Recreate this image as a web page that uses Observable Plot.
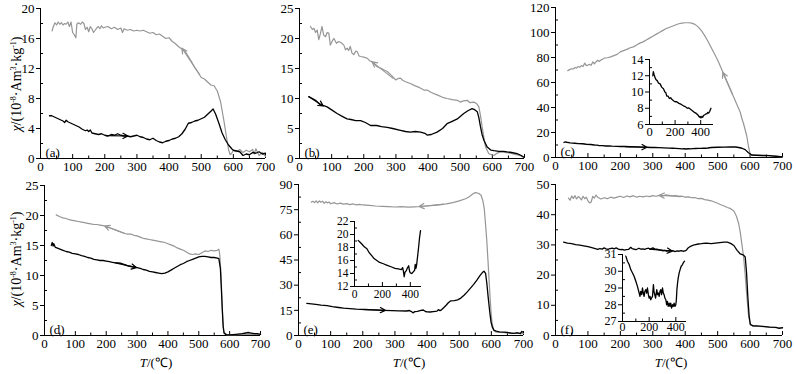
<!DOCTYPE html>
<html><head><meta charset="utf-8">
<script src="https://cdn.jsdelivr.net/npm/d3@7"></script>
<script src="https://cdn.jsdelivr.net/npm/@observablehq/plot@0.6"></script>
<style>
body{margin:0;background:#fff;}
#wrap{position:relative;width:796px;height:374px;overflow:hidden;font-family:"Liberation Serif","Times New Roman",serif;color:#000;}
#wrap svg{position:absolute;}
#wrap svg text{font-family:"Liberation Serif","Times New Roman",serif;}
.ylab{position:absolute;white-space:nowrap;font-size:14px;transform:translate(-50%,-50%) rotate(-90deg);}
.xlab{position:absolute;white-space:nowrap;font-size:13px;transform:translate(-50%,-50%);}
.ylab sup{font-size:8px;vertical-align:baseline;position:relative;top:-5px;}
</style></head><body><div id="wrap"></div>
<script>
// ---------- data: [temperature °C, susceptibility] ----------
const aHeat = [[28,5.7],[35,5.7],[40,5.6],[50,5.4],[60,5.2],[70,5.0],[75,4.8],[80,5.1],[85,4.9],[90,4.8],[100,4.6],[110,4.4],[120,4.2],[130,3.9],[140,3.7],[145,3.8],[150,3.6],[155,3.8],[160,3.4],[170,3.3],[180,3.2],[190,3.3],[200,3.1],[210,3.0],[220,3.2],[230,3.1],[240,3.3],[250,3.1],[260,3.0],[270,3.0],[280,2.9],[290,3.0],[300,3.1],[310,2.9],[320,2.8],[330,2.6],[340,2.5],[350,2.7],[360,2.4],[370,2.2],[380,2.1],[390,2.3],[400,2.4],[410,2.6],[420,2.7],[430,2.9],[440,3.3],[450,3.9],[460,4.7],[470,4.8],[480,5.0],[490,5.1],[500,5.3],[510,5.5],[520,5.9],[530,6.3],[537,6.6],[545,5.9],[555,4.7],[565,3.4],[575,2.5],[585,1.8],[595,1.3],[600,1.1],[610,1.0],[620,0.9],[630,0.4],[640,0.6],[650,0.5],[660,0.8],[670,0.7],[680,0.9],[690,0.6],[700,0.7]];
const aCool = [[36,17.0],[40,17.6],[45,18.1],[50,17.8],[55,18.2],[60,17.9],[65,18.1],[70,17.8],[75,18.0],[80,17.9],[85,18.2],[90,17.6],[95,18.2],[100,16.8],[105,16.5],[110,16.1],[113,17.9],[118,18.1],[125,17.9],[130,18.2],[135,18.0],[140,17.2],[145,17.5],[150,16.9],[155,17.6],[160,17.3],[165,16.8],[170,17.1],[175,17.4],[180,17.6],[185,17.3],[190,17.7],[195,17.4],[200,17.5],[210,17.6],[220,17.3],[230,17.5],[240,17.2],[250,17.4],[255,16.8],[260,17.3],[270,17.1],[280,17.2],[290,17.0],[300,17.1],[310,17.0],[320,17.1],[330,16.9],[340,16.7],[350,16.8],[360,16.5],[370,16.6],[380,16.3],[390,16.0],[400,16.1],[410,15.6],[420,15.3],[430,14.9],[440,14.6],[450,14.3],[460,13.6],[470,12.9],[480,12.1],[490,11.5],[500,10.8],[510,10.6],[520,10.2],[530,9.8],[540,9.7],[550,9.0],[560,7.6],[570,5.2],[580,2.5],[585,1.2],[590,0.5],[595,0.7],[600,1.1],[610,0.9],[620,1.2],[630,0.8],[640,1.1],[650,0.9],[660,1.2],[665,0.6],[670,1.3],[680,0.4],[690,0.8],[700,0.3]];

const bHeat = [[29,10.3],[40,10.0],[50,9.7],[65,8.9],[75,8.8],[86,8.6],[100,8.1],[117,7.5],[130,7.1],[148,6.6],[160,6.5],[175,6.3],[190,6.3],[205,6.0],[221,5.5],[240,5.5],[255,5.3],[273,5.2],[290,5.0],[314,4.7],[330,4.5],[345,4.4],[360,4.5],[377,4.4],[390,4.2],[397,3.9],[410,4.0],[428,4.4],[445,5.0],[459,5.8],[475,6.2],[491,6.6],[500,7.0],[511,7.5],[525,8.0],[537,8.3],[546,8.1],[553,7.8],[558,6.8],[563,5.3],[568,4.0],[574,3.0],[584,1.9],[595,1.4],[605,1.3],[620,1.2],[635,1.2],[646,1.1],[660,1.0],[677,0.8],[690,0.5],[698,0.2]];
const bCool = [[34,22.0],[40,21.5],[45,21.7],[50,21.0],[55,21.4],[60,19.8],[65,20.8],[70,22.0],[75,20.6],[81,20.3],[86,21.0],[91,20.9],[96,18.9],[102,19.6],[107,20.0],[115,19.2],[122,19.5],[130,19.3],[138,18.9],[143,18.1],[148,18.4],[153,18.0],[158,18.7],[163,17.6],[169,17.3],[175,17.9],[180,17.8],[185,17.1],[190,17.0],[200,16.9],[211,16.7],[218,16.3],[226,16.1],[234,15.7],[242,15.3],[255,15.0],[265,14.7],[273,14.5],[285,13.9],[292,13.5],[299,13.1],[306,13.3],[314,13.4],[322,13.0],[330,12.8],[345,12.5],[360,12.1],[370,11.9],[377,11.7],[387,11.4],[397,11.4],[410,11.0],[428,10.6],[445,10.2],[459,10.0],[475,9.8],[491,9.7],[500,9.4],[510,9.6],[522,9.7],[530,9.3],[543,9.4],[552,9.1],[558,8.6],[563,7.2],[568,5.3],[574,3.4],[579,1.9],[589,0.8],[605,0.5],[615,0.9],[626,1.1],[640,1.0],[656,0.9],[670,0.7],[685,0.5],[698,0.2]];

const cHeat = [[26,12.0],[30,12.5],[35,12.2],[45,11.7],[52,11.5],[60,11.4],[70,11.1],[83,11.0],[95,10.6],[109,10.4],[120,10.0],[128,9.9],[135,9.5],[145,9.5],[155,9.2],[165,9.3],[174,9.1],[190,8.9],[200,8.8],[213,8.8],[230,8.6],[245,8.5],[265,8.3],[280,8.2],[295,8.0],[305,8.05],[318,7.9],[335,7.7],[350,7.5],[362,7.4],[370,7.3],[382,7.1],[390,6.9],[396,7.0],[402,6.8],[410,7.0],[416,6.9],[422,7.1],[432,7.2],[440,7.3],[448,7.3],[456,7.5],[462,7.4],[470,7.6],[480,8.0],[500,8.2],[520,8.3],[540,8.5],[555,8.4],[565,8.0],[575,7.4],[585,6.3],[595,3.8],[605,2.0],[620,1.8],[640,1.6],[660,1.5],[680,1.0],[700,0.5]];
const cCool = [[38,69.5],[45,70.5],[50,71],[55,70.8],[60,72],[65,71.5],[70,72.8],[75,72.2],[80,73.5],[85,72.8],[90,75.5],[95,73.5],[100,74],[105,74.5],[110,73.8],[115,76.5],[120,75],[125,76.5],[130,77.8],[135,76.8],[140,78],[145,78.5],[150,79.5],[160,79.8],[170,80.5],[180,81.5],[190,82.5],[200,84.5],[210,85.5],[220,86.5],[230,87.8],[240,88.5],[250,90],[260,91.5],[270,92.5],[280,94],[290,95.5],[300,97],[310,98.5],[320,100],[330,101.5],[340,103],[350,104],[360,105],[370,106],[380,107],[390,107.5],[400,107.8],[410,107.8],[420,107.5],[430,106.5],[440,104.5],[450,101.5],[460,97.5],[470,93],[480,88],[490,83],[500,78],[510,72],[520,66],[530,60],[540,54],[550,48],[560,42],[570,36],[575,31],[580,27],[585,22],[590,17],[595,9],[600,3],[605,1.8],[620,1.7],[640,1.5],[655,1.8],[660,1.2],[680,0.9],[700,0.5]];

const dHeat = [[22,15.0],[25,15.5],[28,14.9],[30,15.3],[35,14.7],[40,14.6],[50,14.4],[60,14.2],[70,14.0],[80,13.9],[90,13.7],[100,13.6],[110,13.5],[120,13.3],[130,13.2],[140,13.0],[150,12.9],[160,12.7],[170,12.6],[180,12.5],[190,12.5],[200,12.4],[210,12.3],[220,12.2],[230,12.1],[240,12.1],[250,12.0],[260,11.8],[270,11.6],[280,11.5],[290,11.4],[300,11.3],[310,11.2],[320,11.0],[330,10.9],[340,10.7],[350,10.6],[360,10.5],[370,10.4],[380,10.3],[390,10.4],[400,10.6],[410,10.9],[420,11.2],[430,11.5],[440,11.8],[450,12.0],[460,12.3],[470,12.5],[480,12.7],[490,12.9],[500,13.1],[510,13.2],[520,13.2],[530,13.1],[540,13.0],[550,13.0],[560,12.9],[565,12.8],[570,11.2],[573,8.0],[576,4.5],[579,1.5],[582,0.4],[590,0.1],[600,0.1],[620,0.2],[640,0.3],[650,0.4],[660,0.5],[670,0.4],[680,0.3],[690,0.3],[700,0.2]];
const dCool = [[38,20.1],[50,19.8],[60,19.6],[70,19.5],[80,19.3],[90,19.2],[100,19.1],[110,19.0],[120,18.9],[130,18.8],[140,18.7],[150,18.6],[160,18.5],[170,18.5],[180,18.4],[190,18.3],[200,18.2],[210,18.0],[220,17.8],[230,17.6],[240,17.4],[250,17.2],[260,17.0],[270,16.9],[280,16.9],[290,16.7],[300,16.6],[310,16.4],[320,16.2],[330,16.1],[340,16.0],[350,15.9],[360,15.8],[370,15.7],[380,15.6],[390,15.5],[400,15.3],[410,15.1],[420,14.9],[430,14.6],[440,14.4],[450,14.2],[460,13.9],[470,13.6],[480,13.5],[490,13.6],[500,13.5],[510,13.8],[520,14.1],[530,14.0],[540,14.2],[550,14.1],[560,14.2],[565,14.4],[568,13.5],[572,10],[575,6],[578,2.5],[581,0.6],[590,0.1],[600,0.1],[650,0.2],[700,0.2]];

const eHeat = [[26,19.1],[40,18.8],[54,18.5],[70,18.1],[89,17.8],[105,17.2],[125,16.7],[140,16.3],[160,16.0],[180,15.7],[207,15.5],[230,15.3],[266,15.0],[290,14.8],[313,14.7],[336,14.6],[345,14.9],[350,14.4],[356,13.5],[362,14.2],[370,14.4],[378,14.8],[388,15.2],[395,14.3],[400,14.1],[410,14.0],[419,14.2],[431,14.5],[435,15.4],[440,14.8],[445,15.3],[454,17.0],[460,18.2],[466,19.5],[473,20.6],[485,20.8],[495,21.2],[505,22.3],[515,24],[525,26],[535,28.2],[545,30.5],[555,33],[565,35.8],[572,37.5],[577,38.3],[582,37],[586,31],[590,23],[595,14],[599,8],[603,5],[608,3.2],[615,2.6],[625,2.2],[640,2.0],[650,1.8],[660,1.5],[670,1.3],[680,1.6],[690,1.2],[695,2.4],[700,1.8]];
const eCool = [[40,79.5],[45,80],[50,79.2],[55,80.3],[60,79.1],[65,80.2],[70,79.4],[75,80.1],[80,78.8],[85,79.8],[90,79.0],[95,79.6],[100,78.5],[110,79.2],[120,78.4],[130,78.9],[140,78.3],[150,78.6],[160,78.0],[170,78.4],[180,77.9],[190,78.2],[200,77.8],[220,77.5],[240,77.2],[260,77.0],[280,76.8],[300,76.6],[320,76.8],[340,76.5],[360,76.7],[380,76.9],[400,77.2],[420,77.6],[440,78.0],[460,78.5],[480,79.2],[500,80.2],[520,81.5],[530,82.5],[540,84.0],[550,85.2],[560,84.8],[568,83.6],[574,80],[578,75.5],[582,66],[586,56],[590,43],[595,26],[599,14],[602,8],[607,3],[615,2],[630,1.8],[650,1.5],[670,1.2],[680,1.8],[690,1.0],[700,1.2]];

const fHeat = [[25,30.9],[37,30.6],[50,30.4],[62,30.1],[75,29.9],[87,29.7],[100,29.4],[112,29.1],[125,28.7],[131,28.5],[137,28.8],[144,28.6],[150,29.0],[156,28.7],[162,28.5],[168,28.8],[175,28.9],[181,28.7],[187,29.0],[194,28.6],[200,28.4],[206,28.5],[212,28.3],[218,28.4],[225,28.5],[229,28.9],[232,29.2],[236,28.8],[242,28.6],[248,28.4],[257,28.9],[263,28.6],[269,28.7],[275,28.5],[281,28.8],[287,28.9],[293,28.6],[300,29.0],[306,28.7],[312,28.6],[318,28.4],[325,28.3],[331,28.0],[337,28.2],[343,27.9],[350,28.1],[356,27.9],[362,28.1],[368,27.8],[375,28.0],[381,27.9],[387,28.1],[393,27.9],[400,28.0],[404,28.3],[408,28.9],[413,29.3],[418,29.6],[425,29.9],[432,30.1],[440,30.3],[450,30.4],[456,30.5],[465,30.6],[480,30.4],[500,30.7],[520,30.9],[530,30.9],[540,30.5],[550,29.8],[560,28.2],[570,27.0],[580,26.6],[585,26.0],[589,21],[593,13],[597,6.5],[601,3.6],[610,3.2],[620,3.2],[640,3.0],[660,2.8],[680,2.7],[690,2.4],[700,2.6]];
const fCool = [[40,45.5],[45,44.8],[50,46.2],[55,45.4],[60,46.3],[65,45.2],[70,46.0],[75,45.6],[80,44.9],[85,46.1],[90,45.3],[95,45.8],[100,44.6],[105,43.9],[110,44.2],[115,46.1],[120,45.5],[125,46.5],[130,45.8],[140,45.2],[150,45.6],[160,45.3],[170,45.8],[180,45.5],[190,45.8],[200,46.1],[210,45.7],[220,46.2],[230,45.9],[240,46.3],[250,45.8],[260,46.1],[270,45.9],[280,46.2],[290,46.0],[300,46.3],[310,46.1],[320,46.4],[330,46.2],[340,46.6],[350,46.4],[360,46.2],[370,46.3],[380,46.0],[390,46.1],[400,45.8],[410,45.9],[420,45.6],[430,45.7],[440,45.3],[450,45.4],[460,45.0],[470,44.8],[480,44.6],[490,44.2],[500,43.8],[510,43.3],[520,42.9],[530,42.4],[540,42.0],[550,41.2],[558,39.5],[565,37],[570,34],[575,30],[580,26],[585,20],[590,13],[595,7],[600,3.8],[610,3.0],[620,3.1],[640,2.9],[660,2.8],[680,2.6],[700,2.4]];

// direction arrows laid along the curves: [T1, chi1, T2, chi2] (head at T2)
const aArrows = {heat:[205,3.05,272,3.0], cool:[495,11.2,440,14.7]};
const bArrows = {heat:[29,10.3,74,8.75], cool:[290,13.4,226,16.1]};
const cArrows = {heat:[215,8.75,282,8.2], cool:[545,51,516,68]};
const dArrows = {heat:[230,12.1,298,11.3], cool:[260,17.0,195,18.25]};
const eArrows = {heat:[200,15.5,270,15.0], cool:[450,78.2,375,76.9]};
const fArrows = {heat:[290,28.6,360,27.95], cool:[390,46.1,320,46.4]};

// tick values
const xTicks = [0,100,200,300,400,500,600,700];
const xMinor = [50,150,250,350,450,550,650];
const insetXTicks = [0,200,400];
const insetXMinor = [100,300];
const aYTicks = [0,4,8,12,16,20], aYMinor = [2,6,10,14,18];
const bYTicks = [0,5,10,15,20,25], bYMinor = [2.5,7.5,12.5,17.5,22.5];
const cYTicks = [0,20,40,60,80,100,120], cYMinor = [10,30,50,70,90,110];
const dYTicks = [0,5,10,15,20,25], dYMinor = [2.5,7.5,12.5,17.5,22.5];
const eYTicks = [0,15,30,45,60,75,90], eYMinor = [7.5,22.5,37.5,52.5,67.5,82.5];
const fYTicks = [0,10,20,30,40,50], fYMinor = [5,15,25,35,45];
const cInsetYTicks = [6,8,10,12,14], cInsetYMinor = [7,9,11,13];
const eInsetYTicks = [12,14,16,18,20,22], eInsetYMinor = [13,15,17,19,21];
const fInsetYTicks = [27,28,29,30,31], fInsetYMinor = [27.5,28.5,29.5,30.5];

const panelLabels = ["(a)","(b)","(c)","(d)","(e)","(f)"];
const yTitle = '<i>χ</i>/(10<sup>-8</sup>·Am<sup>3</sup>·kg<sup>-1</sup>)';
const xTitle = '<i>T</i>/(℃)';

// ---------- drawing ----------
const wrap = document.getElementById("wrap");
const FONT = '"Liberation Serif","Times New Roman",serif';
const HEAT = "#000", COOL = "#969696";
const fmt = d => String(d);

function draw(p) {
  const m = {l: 40, t: 10, r: 26, b: 26};
  const fs = p.fs, pad = p.pad ?? 3;
  const marks = [
    Plot.axisY({ticks: p.yt, tickSize: 4, tickPadding: 2, label: null, fontSize: fs, fontFamily: FONT, tickFormat: fmt}),
    Plot.axisY({ticks: p.ym, tickSize: -3, tickFormat: () => "", label: null}),
    Plot.axisX({ticks: p.xt, tickSize: 0, tickPadding: pad, label: null, fontSize: fs, fontFamily: FONT, tickFormat: fmt}),
    Plot.axisX({ticks: p.xt, tickSize: -4, tickFormat: () => "", label: null}),
    Plot.axisX({ticks: p.xm, tickSize: -2.5, tickFormat: () => "", label: null}),
    Plot.ruleX([p.xd[0]], {stroke: "#000"}),
    Plot.ruleY([p.yd[0]], {stroke: "#000"})
  ];
  if (p.cool) marks.push(Plot.line(p.cool, {x: d => d[0], y: d => d[1], stroke: COOL, strokeWidth: 1.2}));
  if (p.heat) marks.push(Plot.line(p.heat, {x: d => d[0], y: d => d[1], stroke: HEAT, strokeWidth: 1.3}));
  if (p.arrows) {
    for (const [k, col] of [["heat", HEAT], ["cool", COOL]]) {
      const a = p.arrows[k];
      marks.push(Plot.arrow([a], {x1: d => d[0], y1: d => d[1], x2: d => d[2], y2: d => d[3],
        stroke: col, strokeWidth: 1.2, headLength: 7, headAngle: 55}));
    }
  }
  if (p.label) marks.push(Plot.text([p.label], {frameAnchor: "bottom-left", dx: 5, dy: -2, lineAnchor: "bottom", textAnchor: "start", fontSize: 13, fontFamily: FONT}));
  const chart = Plot.plot({
    width: p.w + m.l + m.r, height: p.h + m.t + m.b,
    marginLeft: m.l, marginTop: m.t, marginRight: m.r, marginBottom: m.b,
    x: {domain: p.xd}, y: {domain: p.yd},
    style: `background:transparent;overflow:visible;font-family:${FONT};font-size:13px;color:#000;max-width:none;position:absolute;left:${p.l - m.l}px;top:${p.t - m.t}px;`,
    marks
  });
  wrap.appendChild(chart);
}

const full = [0, 700];
draw({l: 40, t: 8, w: 225, h: 150, xd: full, yd: [0, 20], yt: aYTicks, ym: aYMinor, xt: xTicks, xm: xMinor, heat: aHeat, cool: aCool, arrows: aArrows, label: panelLabels[0], fs: 13});
draw({l: 299, t: 8, w: 225, h: 150, xd: full, yd: [0, 25], yt: bYTicks, ym: bYMinor, xt: xTicks, xm: xMinor, heat: bHeat, cool: bCool, arrows: bArrows, label: panelLabels[1], fs: 13});
draw({l: 555, t: 7, w: 227, h: 150, xd: full, yd: [0, 120], yt: cYTicks, ym: cYMinor, xt: xTicks, xm: xMinor, heat: cHeat, cool: cCool, arrows: cArrows, label: panelLabels[2], fs: 13});
draw({l: 44, t: 185, w: 216, h: 150, xd: full, yd: [0, 25], yt: dYTicks, ym: dYMinor, xt: xTicks, xm: xMinor, heat: dHeat, cool: dCool, arrows: dArrows, label: panelLabels[3], fs: 13});
draw({l: 298, t: 184, w: 225, h: 151, xd: full, yd: [0, 90], yt: eYTicks, ym: eYMinor, xt: xTicks, xm: xMinor, heat: eHeat, cool: eCool, arrows: eArrows, label: panelLabels[4], fs: 13});
draw({l: 555, t: 184, w: 227, h: 151, xd: full, yd: [0, 50], yt: fYTicks, ym: fYMinor, xt: xTicks, xm: xMinor, heat: fHeat, cool: fCool, arrows: fArrows, label: panelLabels[5], fs: 13});

// insets (heating curve below ~480 °C)
draw({l: 649, t: 59, w: 64, h: 65, xd: [0, 500], yd: [6, 14], yt: cInsetYTicks, ym: cInsetYMinor, xt: insetXTicks, xm: insetXMinor, heat: cHeat.filter(d => d[0] <= 480), fs: 12.5});
draw({l: 354, t: 221, w: 67, h: 65, xd: [0, 480], yd: [12, 22], yt: eInsetYTicks, ym: eInsetYMinor, xt: insetXTicks, xm: insetXMinor, heat: eHeat.filter(d => d[0] <= 473), fs: 11.5});
draw({l: 622, t: 254, w: 64, h: 67, xd: [0, 480], yd: [27, 31], yt: fInsetYTicks, ym: fInsetYMinor, xt: insetXTicks, xm: insetXMinor, heat: fHeat.filter(d => d[0] <= 465), fs: 12, pad: 1});

// axis titles
function addLabel(cls, html, x, y) {
  const d = document.createElement("div");
  d.className = cls; d.innerHTML = html;
  d.style.left = x + "px"; d.style.top = y + "px";
  wrap.appendChild(d);
}
addLabel("ylab", yTitle, 17, 84);
addLabel("ylab", yTitle, 17, 259);
addLabel("xlab", xTitle, 156, 362);
addLabel("xlab", xTitle, 409, 362);
addLabel("xlab", xTitle, 671, 362);
</script></body></html>
